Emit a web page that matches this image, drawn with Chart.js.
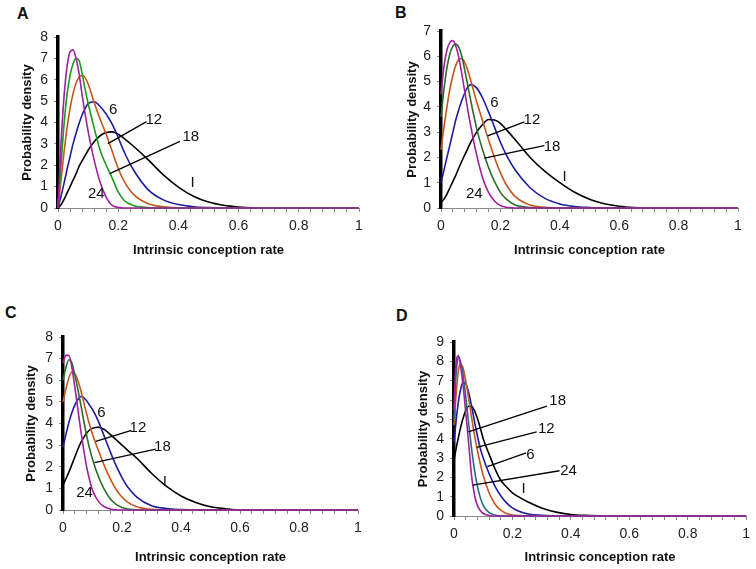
<!DOCTYPE html>
<html>
<head>
<meta charset="utf-8">
<script src="https://cdn.jsdelivr.net/npm/chart.js@4/dist/chart.umd.min.js"></script>
<style>
  body { margin: 0; background: #fff; width: 756px; height: 569px; position: relative; overflow: hidden; }
  canvas { position: absolute; }
  .tag { position: absolute; font: bold 16px "Liberation Sans", Arial, sans-serif; line-height: 16px; color: #111; }
</style>
</head>
<body>
<div class="tag" style="left:17px;top:6px">A</div>
<div class="tag" style="left:395px;top:5px">B</div>
<div class="tag" style="left:5px;top:305px">C</div>
<div class="tag" style="left:396px;top:308px">D</div>
<canvas id="chartA" width="378" height="290" style="left:0;top:0"></canvas>
<canvas id="chartB" width="378" height="290" style="left:378px;top:0"></canvas>
<canvas id="chartC" width="378" height="279" style="left:0;top:290px"></canvas>
<canvas id="chartD" width="378" height="279" style="left:378px;top:290px"></canvas>
<script>
// x positions where the curves were read (intrinsic conception rate)
var rateAC = [0, 0.01, 0.02, 0.03, 0.04, 0.05, 0.06, 0.07, 0.08, 0.09, 0.1, 0.12, 0.14, 0.16, 0.18, 0.2, 0.22, 0.25, 0.3, 0.35, 0.4, 0.45, 0.5, 0.55, 0.6, 0.65, 0.7, 1];
var rateD = [0, 0.005, 0.01, 0.015, 0.02, 0.03, 0.04, 0.05, 0.06, 0.07, 0.08, 0.09, 0.1, 0.12, 0.14, 0.16, 0.18, 0.2, 0.22, 0.25, 0.3, 0.35, 0.4, 0.45, 0.5, 0.55, 0.6, 1];

// series names
var seriesNames = ['24', '18', '12', '6', 'I'];

// panel A
var aS24 = [0, 3.0, 5.2, 6.6, 7.3, 7.4, 7.0, 6.3, 5.3, 4.4, 3.6, 2.25, 1.2, 0.5, 0.12, 0.03, 0, 0, 0, 0, 0, 0, 0, 0, 0, 0, 0, 0];
var aS18 = [0, 2.0, 3.9, 5.3, 6.2, 6.75, 7.0, 6.9, 6.3, 5.55, 4.9, 3.75, 2.7, 2.0, 1.4, 0.75, 0.35, 0.12, 0.02, 0, 0, 0, 0, 0, 0, 0, 0, 0];
var aS12 = [0, 1.3, 2.6, 3.75, 4.65, 5.35, 5.85, 6.12, 6.2, 6.1, 5.8, 4.95, 4.15, 3.45, 2.65, 1.85, 1.25, 0.65, 0.2, 0.06, 0.01, 0, 0, 0, 0, 0, 0, 0];
var aS6 = [0, 0.55, 1.15, 1.8, 2.4, 3.0, 3.5, 3.95, 4.35, 4.65, 4.88, 4.97, 4.75, 4.4, 3.92, 3.3, 2.62, 1.8, 0.85, 0.38, 0.16, 0.06, 0.02, 0, 0, 0, 0, 0];
var aSI = [0, 0.15, 0.4, 0.7, 1.0, 1.3, 1.6, 1.95, 2.2, 2.45, 2.7, 3.1, 3.38, 3.53, 3.56, 3.45, 3.25, 2.9, 2.25, 1.55, 0.98, 0.55, 0.28, 0.13, 0.05, 0.01, 0, 0];

// panel B
var bS24 = [4.5, 5.6, 6.25, 6.55, 6.62, 6.4, 5.95, 5.3, 4.6, 3.9, 3.25, 2.1, 1.2, 0.62, 0.28, 0.1, 0.03, 0, 0, 0, 0, 0, 0, 0, 0, 0, 0, 0];
var bS18 = [3.6, 4.7, 5.55, 6.1, 6.4, 6.48, 6.35, 6.0, 5.45, 4.85, 4.25, 3.15, 2.3, 1.6, 1.05, 0.62, 0.35, 0.12, 0.02, 0, 0, 0, 0, 0, 0, 0, 0, 0];
var bS12 = [2.3, 3.2, 4.0, 4.7, 5.25, 5.65, 5.87, 5.91, 5.75, 5.45, 5.05, 4.2, 3.45, 2.7, 2.0, 1.4, 0.92, 0.45, 0.12, 0.03, 0, 0, 0, 0, 0, 0, 0, 0];
var bS6 = [1.0, 1.5, 2.0, 2.5, 3.0, 3.5, 3.9, 4.25, 4.55, 4.78, 4.88, 4.75, 4.35, 3.8, 3.2, 2.6, 2.1, 1.5, 0.8, 0.38, 0.16, 0.06, 0.02, 0, 0, 0, 0, 0];
var bSI = [0.22, 0.35, 0.55, 0.8, 1.05, 1.3, 1.58, 1.85, 2.1, 2.35, 2.6, 3.0, 3.3, 3.5, 3.48, 3.35, 3.1, 2.7, 2.0, 1.45, 1.0, 0.62, 0.35, 0.17, 0.07, 0.02, 0, 0];

// panel C
var cS24 = [6.8, 7.15, 7.15, 6.6, 5.7, 4.7, 3.7, 2.8, 2.0, 1.4, 0.92, 0.4, 0.15, 0.05, 0.01, 0, 0, 0, 0, 0, 0, 0, 0, 0, 0, 0, 0, 0];
var cS18 = [6.0, 6.6, 6.95, 6.8, 6.25, 5.6, 4.9, 4.15, 3.45, 2.85, 2.35, 1.55, 0.95, 0.52, 0.26, 0.12, 0.05, 0.01, 0, 0, 0, 0, 0, 0, 0, 0, 0, 0];
var cS12 = [5.0, 5.6, 6.1, 6.38, 6.3, 6.0, 5.55, 5.0, 4.45, 3.95, 3.5, 2.75, 2.05, 1.45, 0.95, 0.6, 0.35, 0.15, 0.03, 0, 0, 0, 0, 0, 0, 0, 0, 0];
var cS6 = [2.9, 3.5, 4.05, 4.5, 4.85, 5.1, 5.25, 5.2, 5.05, 4.85, 4.65, 4.1, 3.4, 2.7, 2.05, 1.5, 1.05, 0.6, 0.2, 0.07, 0.02, 0, 0, 0, 0, 0, 0, 0];
var cSI = [1.15, 1.45, 1.75, 2.1, 2.45, 2.8, 3.1, 3.35, 3.55, 3.7, 3.78, 3.83, 3.72, 3.5, 3.25, 3.0, 2.75, 2.4, 1.7, 1.1, 0.65, 0.35, 0.15, 0.06, 0, 0, 0, 0];

// panel D
var dS24 = [5.5, 7.5, 8.2, 8.3, 8.0, 6.9, 5.4, 3.8, 2.1, 1.1, 0.55, 0.28, 0.13, 0.03, 0, 0, 0, 0, 0, 0, 0, 0, 0, 0, 0, 0, 0, 0];
var dS18 = [5.0, 6.8, 7.8, 8.2, 8.1, 7.4, 6.2, 4.8, 3.5, 2.4, 1.55, 0.95, 0.55, 0.17, 0.05, 0.01, 0, 0, 0, 0, 0, 0, 0, 0, 0, 0, 0, 0];
var dS12 = [4.7, 5.8, 6.8, 7.5, 7.85, 7.7, 7.0, 6.1, 5.1, 4.2, 3.4, 2.7, 2.1, 1.2, 0.62, 0.3, 0.13, 0.05, 0.02, 0, 0, 0, 0, 0, 0, 0, 0, 0];
var dS6 = [3.8, 4.6, 5.3, 5.9, 6.35, 6.9, 6.85, 6.4, 5.7, 4.9, 4.15, 3.5, 3.0, 2.2, 1.55, 1.05, 0.68, 0.42, 0.26, 0.12, 0.03, 0.01, 0, 0, 0, 0, 0, 0];
var dSI = [2.9, 3.3, 3.7, 4.05, 4.4, 5.0, 5.45, 5.68, 5.68, 5.45, 5.05, 4.55, 4.0, 3.2, 2.45, 1.85, 1.5, 1.2, 1.0, 0.75, 0.42, 0.2, 0.08, 0.03, 0.01, 0, 0, 0];

// y axis maxima
var yMaxA = 8, yMaxB = 7, yMaxC = 8, yMaxD = 9;

// curve labels with leader lines (in data units)
var notesA = [
  { t: '6', x: 0.183, y: 4.57 },
  { t: '12', x: 0.318, y: 4.13, from: [0.166, 3.01], to: [0.294, 4.04] },
  { t: '18', x: 0.441, y: 3.32, from: [0.172, 1.61], to: [0.405, 3.12] },
  { t: 'I', x: 0.447, y: 1.17 },
  { t: '24', x: 0.127, y: 0.67 }
];
var notesB = [
  { t: '6', x: 0.18, y: 4.14 },
  { t: '12', x: 0.306, y: 3.48, from: [0.157, 2.85], to: [0.281, 3.41] },
  { t: '18', x: 0.374, y: 2.43, from: [0.146, 1.97], to: [0.348, 2.47] },
  { t: 'I', x: 0.416, y: 1.25 },
  { t: '24', x: 0.112, y: 0.56 }
];
var notesC = [
  { t: '6', x: 0.13, y: 4.48 },
  { t: '12', x: 0.254, y: 3.78, from: [0.111, 3.17], to: [0.232, 3.68] },
  { t: '18', x: 0.337, y: 2.9, from: [0.107, 2.19], to: [0.314, 2.81] },
  { t: 'I', x: 0.345, y: 1.31 },
  { t: '24', x: 0.073, y: 0.8 }
];
var notesD = [
  { t: '18', x: 0.355, y: 5.94, from: [0.049, 4.35], to: [0.318, 5.68] },
  { t: '12', x: 0.316, y: 4.53, from: [0.078, 3.55], to: [0.283, 4.35] },
  { t: '6', x: 0.262, y: 3.15, from: [0.114, 2.55], to: [0.247, 3.27] },
  { t: '24', x: 0.392, y: 2.34, from: [0.064, 1.6], to: [0.361, 2.34] },
  { t: 'I', x: 0.238, y: 1.38 }
];

var FONT = '"Liberation Sans", Arial, sans-serif';

// draws the curve labels and their pointer lines
var curveLabels = {
  id: 'curveLabels',
  afterDatasetsDraw: function (chart, args, opts) {
    var ctx = chart.ctx, xs = chart.scales.x, ys = chart.scales.y;
    ctx.save();
    ctx.strokeStyle = '#000';
    ctx.lineWidth = 1.3;
    ctx.fillStyle = '#111';
    ctx.font = '15px ' + FONT;
    ctx.textAlign = 'center';
    ctx.textBaseline = 'middle';
    opts.items.forEach(function (it) {
      if (it.from) {
        ctx.beginPath();
        ctx.moveTo(xs.getPixelForValue(it.from[0]), ys.getPixelForValue(it.from[1]));
        ctx.lineTo(xs.getPixelForValue(it.to[0]), ys.getPixelForValue(it.to[1]));
        ctx.stroke();
      }
      ctx.fillText(it.t, xs.getPixelForValue(it.x), ys.getPixelForValue(it.y));
    });
    ctx.restore();
  }
};

function points(xs, ys) {
  return xs.map(function (x, i) { return { x: x, y: ys[i] }; });
}

function makeChart(id, xs, ys, colors, yMax, notes, box) {
  var datasets = ys.map(function (arr, i) {
    return {
      label: seriesNames[i],
      data: points(xs, arr),
      borderColor: colors[i],
      borderWidth: 1.6,
      pointRadius: 0,
      cubicInterpolationMode: 'monotone',
      clip: false
    };
  });
  return new Chart(document.getElementById(id).getContext('2d'), {
    type: 'line',
    data: { datasets: datasets },
    options: {
      responsive: false,
      animation: false,
      devicePixelRatio: 1,
      layout: { padding: { top: box.top, right: box.right, left: 0, bottom: 0 } },
      plugins: {
        legend: { display: false },
        tooltip: { enabled: false },
        curveLabels: { items: notes }
      },
      scales: {
        x: {
          type: 'linear',
          min: 0,
          max: 1,
          border: { color: '#8a8a8a', width: 1 },
          grid: { drawOnChartArea: false, tickLength: 4, color: '#8a8a8a' },
          ticks: {
            stepSize: 0.04,
            autoSkip: false,
            maxRotation: 0,
            padding: 6,
            color: '#222',
            font: { family: FONT, size: 14 },
            callback: function (v) {
              var r = Math.round(v * 5);
              return Math.abs(v * 5 - r) < 1e-6 ? String(r / 5) : '';
            }
          },
          title: {
            display: true,
            text: 'Intrinsic conception rate',
            color: '#111',
            font: { family: FONT, size: 13, weight: 'bold' },
            padding: { top: 0, bottom: box.xTitle }
          },
          afterFit: function (s) { s.height = box.xh; }
        },
        y: {
          min: 0,
          max: yMax,
          border: { color: '#000', width: 3.5 },
          grid: { drawOnChartArea: false, tickLength: 4, color: '#8a8a8a' },
          ticks: {
            stepSize: 1,
            autoSkip: false,
            padding: 6,
            color: '#222',
            font: { family: FONT, size: 14 }
          },
          title: {
            display: true,
            text: 'Probability density',
            color: '#111',
            font: { family: FONT, size: 13, weight: 'bold' },
            padding: { top: box.yTitle, bottom: 0 }
          },
          afterFit: function (s) { s.width = box.yw; }
        }
      }
    },
    plugins: [curveLabels]
  });
}

var colorsA = ['#a020a0', '#1e9a1e', '#c4561c', '#1c1ca0', '#000000'];
var colorsB = ['#a020a0', '#2b6b2b', '#c4561c', '#1c1ca0', '#000000'];
var colorsC = ['#a020a0', '#2b6b2b', '#c4561c', '#1c1ca0', '#000000'];
var colorsD = ['#a020a0', '#2a6a80', '#c4561c', '#1c1ca0', '#000000'];

makeChart('chartA', rateAC, [aS24, aS18, aS12, aS6, aSI], colorsA, yMaxA, notesA,
  { top: 37, right: 19, yw: 58, xh: 82, xTitle: 32, yTitle: 20 });
makeChart('chartB', rateAC, [bS24, bS18, bS12, bS6, bSI], colorsB, yMaxB, notesB,
  { top: 31, right: 18, yw: 63, xh: 82, xTitle: 32, yTitle: 27 });
makeChart('chartC', rateAC, [cS24, cS18, cS12, cS6, cSI], colorsC, yMaxC, notesC,
  { top: 47, right: 20, yw: 63, xh: 59, xTitle: 4, yTitle: 24 });
makeChart('chartD', rateD, [dS24, dS18, dS12, dS6, dSI], colorsD, yMaxD, notesD,
  { top: 52, right: 5, yw: 76, xh: 53, xTitle: 4, yTitle: 38 });
</script>
</body>
</html>
